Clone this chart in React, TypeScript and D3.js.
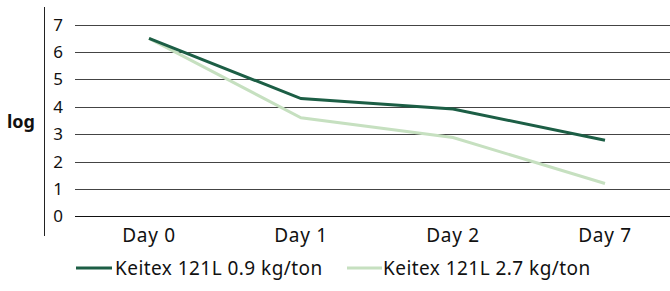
import React, { useEffect, useRef } from 'react';
import * as d3 from 'd3';

const days = ['Day 0', 'Day 1', 'Day 2', 'Day 7'];
const lowDose = [6.5, 4.3, 3.92, 2.78];
const highDose = [6.5, 3.6, 2.88, 1.2];
const yTicks = [0, 1, 2, 3, 4, 5, 6, 7];
const seriesNames = ['Keitex 121L 0.9 kg/ton', 'Keitex 121L 2.7 kg/ton'];
const colors = ['#1c5e45', '#c6e0c0'];

const FONT = '"Noto Sans", sans-serif';

const App = () => {
  const ref = useRef<SVGSVGElement | null>(null);

  useEffect(() => {
    const svg = d3.select(ref.current);
    svg.selectAll('*').remove();

    const width = 670;
    const height = 291;

    // plot area
    const x = d3.scaleBand().domain(days).range([73, 681]);
    const y = d3.scaleLinear().domain([0, 7]).range([216.3, 24.7]);

    // left rule
    svg
      .append('line')
      .attr('x1', 44.5)
      .attr('x2', 44.5)
      .attr('y1', 7)
      .attr('y2', 236)
      .attr('stroke', '#222')
      .attr('stroke-width', 1);

    // y label
    svg
      .append('text')
      .attr('x', 21)
      .attr('y', 128)
      .attr('text-anchor', 'middle')
      .style('font-family', FONT)
      .style('font-weight', 700)
      .style('font-size', '18px')
      .style('fill', '#111')
      .text('log');

    // gridlines
    svg
      .append('g')
      .selectAll('line')
      .data(yTicks)
      .enter()
      .append('line')
      .attr('x1', 75)
      .attr('x2', width)
      .attr('y1', (d) => Math.round(y(d)) + 0.5)
      .attr('y2', (d) => Math.round(y(d)) + 0.5)
      .attr('stroke', (d) => (d === 0 ? '#111' : '#444'))
      .attr('stroke-width', 1);

    // y tick labels
    svg
      .append('g')
      .selectAll('text')
      .data(yTicks)
      .enter()
      .append('text')
      .attr('x', 63)
      .attr('y', (d) => y(d) + 6)
      .attr('text-anchor', 'end')
      .style('font-family', FONT)
      .style('font-size', '17px')
      .style('fill', '#111')
      .text((d) => d);

    // x labels
    svg
      .append('g')
      .selectAll('text')
      .data(days)
      .enter()
      .append('text')
      .attr('x', (d) => (x(d) as number) + x.bandwidth() / 2)
      .attr('y', 242)
      .attr('text-anchor', 'middle')
      .style('font-family', FONT)
      .style('font-size', '19px')
      .style('letter-spacing', '0.7px')
      .style('fill', '#111')
      .text((d) => d);

    // lines
    const line = d3
      .line<number>()
      .x((_, i) => (x(days[i]) as number) + x.bandwidth() / 2)
      .y((d) => y(d));

    [highDose, lowDose].forEach((s, k) => {
      const idx = k === 0 ? 1 : 0;
      svg
        .append('path')
        .datum(s)
        .attr('d', line)
        .attr('fill', 'none')
        .attr('stroke', colors[idx])
        .attr('stroke-width', 3);
    });

    // legend
    const legend = [
      { x1: 76, x2: 112, tx: 115 },
      { x1: 347, x2: 382, tx: 383 },
    ];
    legend.forEach((l, i) => {
      svg
        .append('line')
        .attr('x1', l.x1)
        .attr('x2', l.x2)
        .attr('y1', 268)
        .attr('y2', 268)
        .attr('stroke', colors[i])
        .attr('stroke-width', 3);
      svg
        .append('text')
        .attr('x', l.tx)
        .attr('y', 274.5)
        .style('font-family', FONT)
        .style('font-size', '19px')
        .style('letter-spacing', '0.45px')
        .style('fill', '#111')
        .text(seriesNames[i]);
    });

    svg.attr('width', width).attr('height', height);
  }, []);

  return (
    <div style={{ position: 'absolute', left: 0, top: 0, background: '#fff' }}>
      <svg ref={ref} width={670} height={291} style={{ display: 'block' }} />
    </div>
  );
};

export default App;
